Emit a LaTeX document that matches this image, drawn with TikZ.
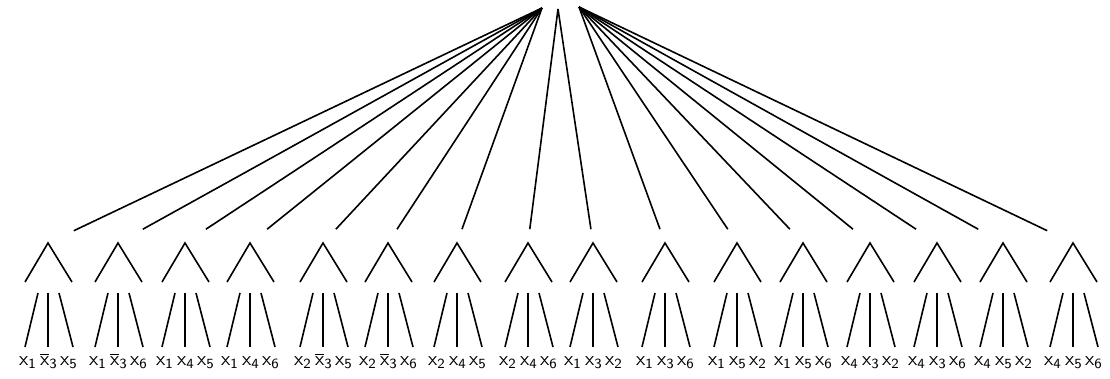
\documentclass[tikz,border=0pt]{standalone}
\usepackage{tikz}

\newcommand{\lit}[1]{$\mathsf{x}_{\mathsf{#1}}$}
\newcommand{\nlit}[1]{$\overline{\mathsf{x}}_{\mathsf{#1}}$}

\begin{document}
\begin{tikzpicture}[x=0.5pt, y=-0.5pt, line width=0.8pt,
    hub/.style={minimum width=25pt, minimum height=13pt, inner sep=0pt},
    lab/.style={font=\normalsize, inner sep=0pt, anchor=base}]
    % 1. Keret
    \useasboundingbox (0,0) rectangle (1110,379);

    % 2. Gyoker (a vonalak talalkozasi pontjai)
    \coordinate (rl) at (542,8);
    \coordinate (rc) at (558,9);
    \coordinate (rr) at (579,7);

    % 3. Reszfak: csucs, vonal a gyokerbol, harom level
    \foreach \a/\s/\p/\q/\r [count=\i] in {
        48/rl/\lit1/\nlit3/\lit5, 118/rl/\lit1/\nlit3/\lit6,
        185/rl/\lit1/\lit4/\lit5, 250/rl/\lit1/\lit4/\lit6,
        323/rl/\lit2/\nlit3/\lit5, 388/rl/\lit2/\nlit3/\lit6,
        457/rl/\lit2/\lit4/\lit5, 528/rc/\lit2/\lit4/\lit6,
        593/rc/\lit1/\lit3/\lit2, 665/rr/\lit1/\lit3/\lit6,
        737/rr/\lit1/\lit5/\lit2, 803/rr/\lit1/\lit5/\lit6,
        870/rr/\lit4/\lit3/\lit2, 937/rr/\lit4/\lit3/\lit6,
        1003/rr/\lit4/\lit5/\lit2, 1073/rr/\lit4/\lit5/\lit6} {
        \node[hub] (t-\i) at (\a,243) {};
        \draw (\s) -- (t-\i);
        \draw (\a-23,282) -- (t-\i.center) -- (\a+24,282);

        % levelek
        \node[lab] (l-\i-1) at (\a-20,366) {\p};
        \node[lab] (l-\i-2) at (\a+1,366) {\q};
        \node[lab] (l-\i-3) at (\a+21,366) {\r};
        \coordinate (u-\i-1) at (\a-10,293);
        \coordinate (u-\i-2) at (\a,293);
        \coordinate (u-\i-3) at (\a+11,293);
        \coordinate (d-\i-1) at (\a-23,347);
        \coordinate (d-\i-2) at (\a,347);
        \coordinate (d-\i-3) at (\a+25,347);
        \draw (u-\i-1) -- (d-\i-1);
        \draw (u-\i-2) -- (d-\i-2);
        \draw (u-\i-3) -- (d-\i-3);
    }
\end{tikzpicture}
\end{document}
